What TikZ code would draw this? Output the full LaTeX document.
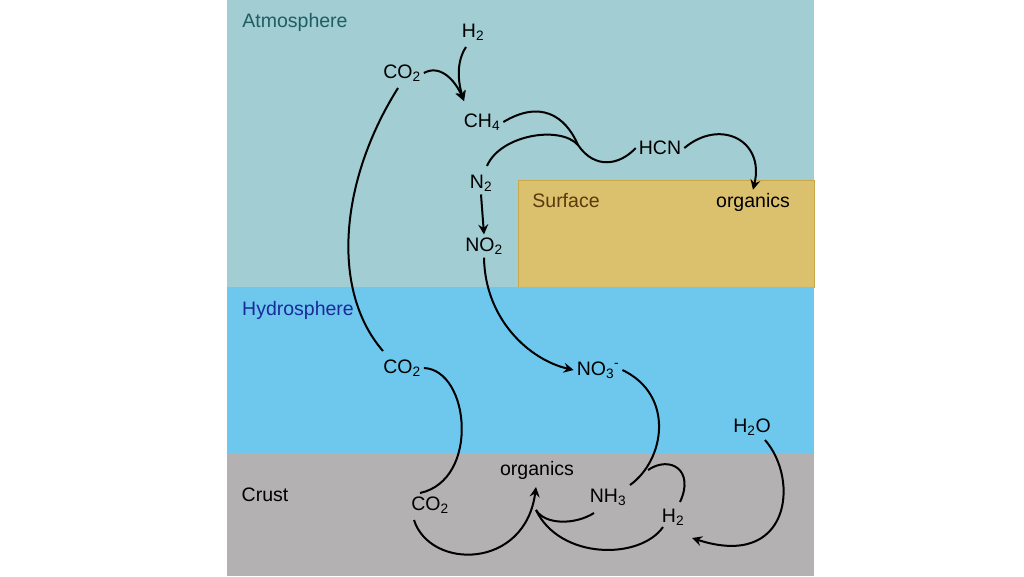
\documentclass[tikz,border=0pt]{standalone}
\usepackage{fontspec}
\setmainfont{Liberation Sans}
\usetikzlibrary{arrows.meta}
\definecolor{atm}{HTML}{A1CDD3}
\definecolor{hyd}{HTML}{6EC8EE}
\definecolor{crust}{HTML}{B3B1B2}
\definecolor{surf}{HTML}{DBC06E}
\definecolor{surfb}{HTML}{C9A84A}
\definecolor{atmt}{HTML}{1E5E64}
\definecolor{hydt}{HTML}{1A2A9A}
\definecolor{surft}{HTML}{5A3A0A}
\begin{document}
\begin{tikzpicture}[x=1pt,y=-1pt,
  lab/.style={inner sep=3pt,font=\fontsize{19.5}{22}\selectfont},
  reg/.style={inner sep=0pt,font=\fontsize{19.5}{22}\selectfont},
  fl/.style={line width=2pt},
  ar/.style={fl,-{Stealth[length=10pt,width=10pt,inset=3.5pt]}}]
\useasboundingbox (0,0) rectangle (1024,576);
\fill[white] (0,0) rectangle (1024,576);
\fill[atm] (227,0) rectangle (814,287);
\fill[surf,draw=surfb] (518,180) rectangle (814,287);
\fill[hyd] (227,287) rectangle (814,453);
\fill[crust] (227,453) rectangle (814,576);
\node[reg,text=atmt] (latm) at (295,22) {Atmosphere};
\node[reg,text=surft] (lsur) at (566,201) {Surface};
\node[reg,text=hydt] (lhyd) at (298,310) {Hydrosphere};
\node[reg] (lcr) at (265,495) {Crust};
\node[lab] (h2a) at (473,32) {H\textsubscript{2}};
\node[lab] (co2a) at (402,73) {CO\textsubscript{2}};
\node[lab] (ch4) at (482,122) {CH\textsubscript{4}};
\node[lab] (hcn) at (660,148) {HCN};
\node[lab] (n2) at (481,183) {N\textsubscript{2}};
\node[lab] (no2) at (484,246) {NO\textsubscript{2}};
\node[lab] (orgs) at (753,202) {organics};
\node[lab] (co2h) at (402,368) {CO\textsubscript{2}};
\node[lab] (no3) at (598,370) {NO\textsubscript{3}\textsuperscript{-}};
\node[lab] (h2o) at (752,427) {H\textsubscript{2}O};
\node[lab] (orgc) at (537,470) {organics};
\node[lab] (co2c) at (430,505) {CO\textsubscript{2}};
\node[lab] (nh3) at (608,497) {NH\textsubscript{3}};
\node[lab] (h2c) at (673,517) {H\textsubscript{2}};
\coordinate (j1) at (578,145);
\coordinate (j2) at (536,510);
\draw[ar] (466,47) .. controls (456,62) and (458,82) .. (464,101);
\draw[ar] (co2a.east) .. controls (440,64) and (455,80) .. (464,101);
\draw[fl] (398,88) .. controls (340,180) and (330,290) .. (383,351);
\draw[fl] (ch4.east) .. controls (540,100) and (565,115) .. (j1) .. controls (595,170) and (620,165) .. (hcn.west);
\draw[fl] (487,166) .. controls (500,135) and (560,125) .. (j1);
\draw[ar] (hcn.east) .. controls (720,118) and (765,140) .. (orgs.north);
\draw[ar] (n2.south) -- (no2.north);
\draw[ar] (no2.south) .. controls (485,320) and (530,360) .. (no3.west);
\draw[fl] (co2h.east) .. controls (470,370) and (480,480) .. (420,493);
\draw[fl] (no3.east) .. controls (675,395) and (665,460) .. (630,485);
\draw[fl] (648,470) .. controls (670,455) and (695,470) .. (680,502);
\draw[fl] (663,527) .. controls (640,560) and (560,560) .. (j2);
\draw[fl] (594,513) .. controls (575,525) and (545,525) .. (j2);
\draw[ar] (414,520) .. controls (430,570) and (525,570) .. (536,487);
\draw[ar] (765,440) .. controls (800,480) and (790,570) .. (692,538);
\end{tikzpicture}
\end{document}
